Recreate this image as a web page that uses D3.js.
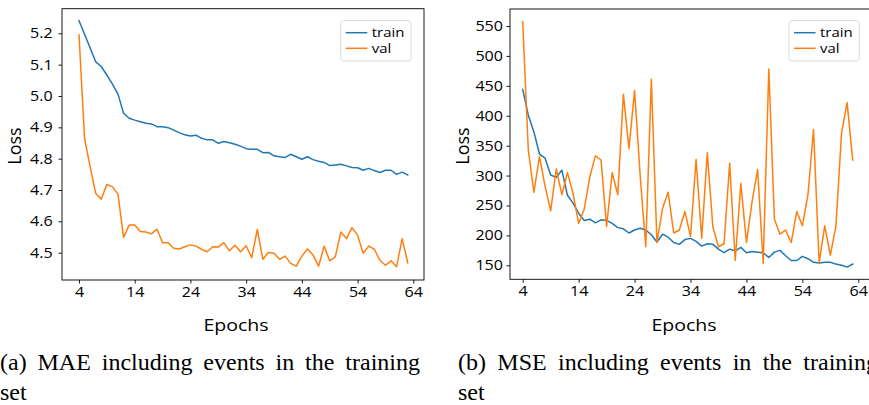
<!DOCTYPE html>
<html>
<head>
<meta charset="utf-8">
<script src="https://cdn.jsdelivr.net/npm/d3@7"></script>
<style>
  html, body { margin: 0; padding: 0; background: #fff; }
  svg { display: block; }
  text { font-family: "Open Sans", "DejaVu Sans", sans-serif; fill: #000; }
  .cap { font-family: "Liberation Serif", "Times New Roman", serif; }
</style>
</head>
<body>
<svg id="fig" width="869" height="405"></svg>
<script>
// ---------------- data ----------------
const epochs = [4,5,6,7,8,9,10,11,12,13,14,15,16,17,18,19,20,21,22,23,24,25,26,27,28,29,30,31,32,33,
                34,35,36,37,38,39,40,41,42,43,44,45,46,47,48,49,50,51,52,53,54,55,56,57,58,59,60,61,62,63];

const maeTrain = [5.240,5.197,5.153,5.109,5.094,5.067,5.038,5.006,4.945,4.929,4.923,4.918,4.913,4.911,4.902,
                  4.902,4.899,4.891,4.883,4.876,4.872,4.875,4.865,4.860,4.860,4.849,4.855,4.851,4.846,4.840,
                  4.832,4.830,4.830,4.819,4.820,4.809,4.806,4.804,4.814,4.806,4.798,4.806,4.797,4.792,4.788,
                  4.778,4.780,4.782,4.777,4.772,4.771,4.763,4.769,4.762,4.756,4.763,4.763,4.750,4.757,4.748];
const maeVal   = [5.195,4.865,4.774,4.689,4.671,4.718,4.710,4.687,4.549,4.588,4.588,4.568,4.566,4.560,4.575,
                  4.532,4.532,4.514,4.512,4.519,4.525,4.521,4.511,4.503,4.519,4.518,4.532,4.506,4.524,4.503,
                  4.522,4.484,4.574,4.479,4.501,4.498,4.479,4.489,4.466,4.457,4.489,4.512,4.493,4.457,4.521,
                  4.474,4.487,4.566,4.545,4.580,4.556,4.498,4.521,4.511,4.476,4.460,4.474,4.455,4.545,4.468];

const mseTrain = [444,401,373,336,329,301,297,309,267,254,237,225,227,221,226,225,220,213,211,204,
                  209,212,209,201,189,202,197,188,185,193,195,190,182,186,185,177,171,177,174,180,
                  171,173,172,171,163,172,175,166,158,158,165,161,155,154,155,155,152,150,147,152];
const mseVal   = [557,343,272,332,282,241,311,268,305,270,220,244,298,333,326,215,305,268,436,345,
                  442,300,181,461,188,245,272,204,209,240,198,327,195,338,214,181,186,321,158,287,
                  188,256,310,153,478,227,202,209,188,240,216,268,377,154,216,167,215,371,422,326];

const xTicks = [4,14,24,34,44,54,64];
const maeTicks = [4.5,4.6,4.7,4.8,4.9,5.0,5.1,5.2];
const mseTicks = [150,200,250,300,350,400,450,500,550];
const seriesNames = ["train","val"];
const seriesColors = ["#1f77b4","#ff7f0e"];
const xLabel = "Epochs", yLabel = "Loss";
const captions = ["(a) MAE including events in the training", "(b) MSE including events in the training"];
const captionTail = "set";

// ---------------- drawing ----------------
const svg = d3.select("#fig");
const SX = 1.15;  // horizontal stretch of the reference's sans text

function panel(cfg) {
  const g = svg.append("g");
  const x = d3.scaleLinear().domain([4,64]).range(cfg.xr);
  const y = d3.scaleLinear().domain(cfg.yd).range(cfg.yr);

  // lines
  const line = d3.line().x((d,i)=>x(epochs[i])).y(d=>y(d));
  [cfg.train, cfg.val].forEach((s,k)=>{
    g.append("path").datum(s).attr("d", line)
      .attr("fill","none").attr("stroke", seriesColors[k]).attr("stroke-width",1.5)
      .attr("stroke-linejoin","round").attr("stroke-linecap","square");
  });

  // frame
  g.append("rect").attr("x",cfg.fx0).attr("y",cfg.fy0)
    .attr("width",cfg.fx1-cfg.fx0).attr("height",cfg.fy1-cfg.fy0)
    .attr("fill","none").attr("stroke","#000").attr("stroke-width",0.9);

  // x axis
  const gx = g.append("g").attr("transform",`translate(0,${cfg.fy1})`)
    .call(d3.axisBottom(x).tickValues(xTicks).tickSize(3.5).tickPadding(3.5).tickFormat(d3.format("d")));
  gx.select(".domain").remove();
  gx.selectAll("line").attr("stroke","#000").attr("stroke-width",0.9);
  gx.selectAll("text").attr("font-size",14).attr("font-family","Open Sans")
    .attr("transform",`scale(${SX},1)`);

  // y axis
  const gy = g.append("g").attr("transform",`translate(${cfg.fx0},0)`)
    .call(d3.axisLeft(y).tickValues(cfg.yt).tickSize(3.5).tickFormat(cfg.yf));
  gy.select(".domain").remove();
  gy.selectAll("line").attr("stroke","#000").attr("stroke-width",0.9);
  gy.selectAll("text").attr("font-size",14).attr("font-family","Open Sans")
    .attr("x", -cfg.ypad/SX).attr("transform",`scale(${SX},1)`);

  // axis labels
  const cx = (cfg.fx0+cfg.fx1)/2 - 7;
  g.append("text").attr("transform",`translate(${cx},331) scale(${SX},1)`)
    .attr("text-anchor","middle").attr("font-size",17).text(xLabel);
  g.append("text").attr("transform",`translate(${cfg.lx},146) rotate(-90)`)
    .attr("text-anchor","middle").attr("font-size",18).text(yLabel);

  // legend
  const L = g.append("g").attr("transform",`translate(${cfg.legx},20.7)`);
  L.append("rect").attr("width",70.3).attr("height",40.3).attr("rx",3)
    .attr("fill","#fff").attr("fill-opacity",0.8).attr("stroke","#d6d6d6").attr("stroke-width",0.9);
  seriesNames.forEach((n,k)=>{
    const yy = 12 + k*15.6;
    L.append("line").attr("x1",5).attr("x2",26.6).attr("y1",yy).attr("y2",yy)
      .attr("stroke",seriesColors[k]).attr("stroke-width",1.5);
    L.append("text").attr("transform",`translate(31,${yy}) scale(${SX},1)`)
      .attr("dy","0.36em").attr("font-size",13).text(n);
  });

  // caption (justified across the column width)
  const words = cfg.cap.split(" ");
  const widths = words.map(w=>{
    const t = svg.append("text").attr("class","cap").attr("font-size",cfg.cs).text(w);
    const wd = t.node().getComputedTextLength(); t.remove(); return wd;
  });
  const total = d3.sum(widths);
  const gap = (cfg.cw - total)/(words.length-1);
  let xx = cfg.capx;
  const ct = g.append("text").attr("class","cap").attr("font-size",cfg.cs);
  words.forEach((w,i)=>{
    ct.append("tspan").attr("x",xx).attr("y",370).text(w);
    xx += widths[i] + gap;
  });
  g.append("text").attr("class","cap").attr("font-size",cfg.cs)
    .attr("x",cfg.capx).attr("y",400).text(captionTail);
}

panel({ xr:[79,413.3], yd:[4.5,5.2], yr:[252.7,33.3], yt:maeTicks, yf:d3.format(".1f"),
        fx0:62, fx1:424, fy0:8.7, fy1:280, ypad:9.3, lx:20.5, legx:340.7,
        train:maeTrain, val:maeVal, cap:captions[0], capx:0, cw:420, cs:24 });
panel({ xr:[522.7,858.3], yd:[150,550], yr:[265.3,26], yt:mseTicks, yf:d3.format("d"),
        fx0:510, fx1:872, fy0:9, fy1:279.3, ypad:7, lx:468.5, legx:789,
        train:mseTrain, val:mseVal, cap:captions[1], capx:458, cw:420, cs:24 });
</script>
</body>
</html>
